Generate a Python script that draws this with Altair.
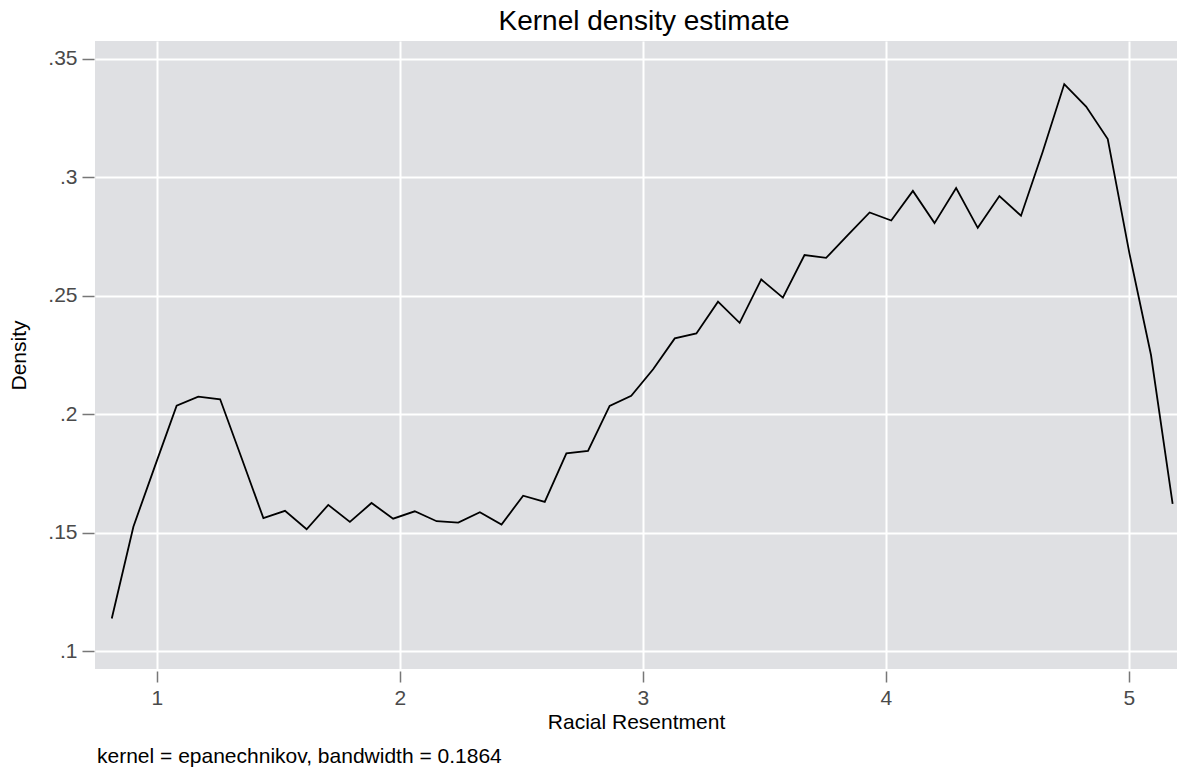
import altair as alt
import pandas as pd

# Evaluation grid of the kernel density estimate (Racial Resentment)
x_vals = [0.814, 0.903, 0.992, 1.081, 1.170, 1.260, 1.349, 1.438, 1.527, 1.616,
          1.705, 1.794, 1.883, 1.972, 2.061, 2.151, 2.240, 2.329, 2.418, 2.507,
          2.596, 2.685, 2.774, 2.863, 2.952, 3.042, 3.131, 3.220, 3.309, 3.398,
          3.487, 3.576, 3.665, 3.754, 3.843, 3.933, 4.022, 4.111, 4.200, 4.289,
          4.378, 4.467, 4.556, 4.645, 4.734, 4.824, 4.913, 5.002, 5.091, 5.180]

# Estimated density values
density = [0.1137, 0.1525, 0.1782, 0.2036, 0.2074, 0.2063, 0.1813, 0.1561, 0.1592, 0.1514,
           0.1617, 0.1545, 0.1625, 0.1559, 0.1590, 0.1548, 0.1542, 0.1586, 0.1534, 0.1656,
           0.1630, 0.1835, 0.1845, 0.2035, 0.2078, 0.2190, 0.2320, 0.2341, 0.2475, 0.2386,
           0.2569, 0.2492, 0.2672, 0.2660, 0.2756, 0.2852, 0.2818, 0.2943, 0.2807, 0.2955,
           0.2787, 0.2921, 0.2838, 0.3107, 0.3394, 0.3299, 0.3162, 0.2680, 0.2250, 0.1621]

x_ticks = [1, 2, 3, 4, 5]
y_ticks = [0.1, 0.15, 0.2, 0.25, 0.3, 0.35]

title_text = ["Kernel density estimate"]
x_title = "Racial Resentment"
y_title = "Density"
note_text = ["kernel = epanechnikov, bandwidth = 0.1864"]

df = pd.DataFrame({"x": x_vals, "density": density})
note_df = pd.DataFrame({"note": note_text})
title_df = pd.DataFrame({"title": title_text})

W, H = 1082, 628
FONT = "Liberation Sans"
BG = "#dfe0e3"

line = alt.Chart(df).mark_line(color="black", strokeWidth=1.8, clip=True).encode(
    x=alt.X(
        "x:Q",
        scale=alt.Scale(domain=[0.745, 5.198], nice=False, zero=False),
        axis=alt.Axis(
            values=x_ticks, format="d", title=x_title,
            grid=True, gridColor="white", gridWidth=2, gridOpacity=1,
            domain=False, ticks=True, tickColor="#777", tickWidth=1.5,
            tickSize=11, offset=2,
            labelFont=FONT, labelFontSize=21, labelColor="#4a4a4a", labelPadding=5,
            titleFont=FONT, titleFontSize=21, titleFontWeight="normal",
            titleColor="black", titleBaseline="alphabetic", titleY=57,
        ),
    ),
    y=alt.Y(
        "density:Q",
        scale=alt.Scale(domain=[0.0924, 0.3576], nice=False, zero=False),
        axis=alt.Axis(
            values=y_ticks,
            labelExpr="replace(format(datum.value, '.2~f'), '0.', '.')",
            title=y_title,
            grid=True, gridColor="white", gridWidth=2, gridOpacity=1,
            domain=False, ticks=True, tickColor="#777", tickWidth=1.5,
            tickSize=12, offset=1,
            labelFont=FONT, labelFontSize=21, labelColor="#4a4a4a", labelPadding=5,
            titleFont=FONT, titleFontSize=21, titleFontWeight="normal",
            titleColor="black", titleAngle=270, titleBaseline="middle",
            titleAlign="center", titleX=-75, titleY=314,
        ),
    ),
)

note = alt.Chart(note_df).mark_text(
    align="left", baseline="alphabetic", fontSize=21, font=FONT, color="black"
).encode(x=alt.value(2), y=alt.value(722), text="note:N")

title = alt.Chart(title_df).mark_text(
    align="center", baseline="alphabetic", fontSize=28, font=FONT, color="black"
).encode(x=alt.value(549), y=alt.value(-11), text="title:N")

chart = alt.layer(line, note, title).properties(
    width=W,
    height=H,
    background="white",
    padding={"left": 87, "top": 33, "right": 0, "bottom": 99},
    autosize=alt.AutoSizeParams(type="none"),
).configure_view(fill=BG, stroke=None)

chart.save("out.html", embed_options={"renderer": "svg", "actions": False})
